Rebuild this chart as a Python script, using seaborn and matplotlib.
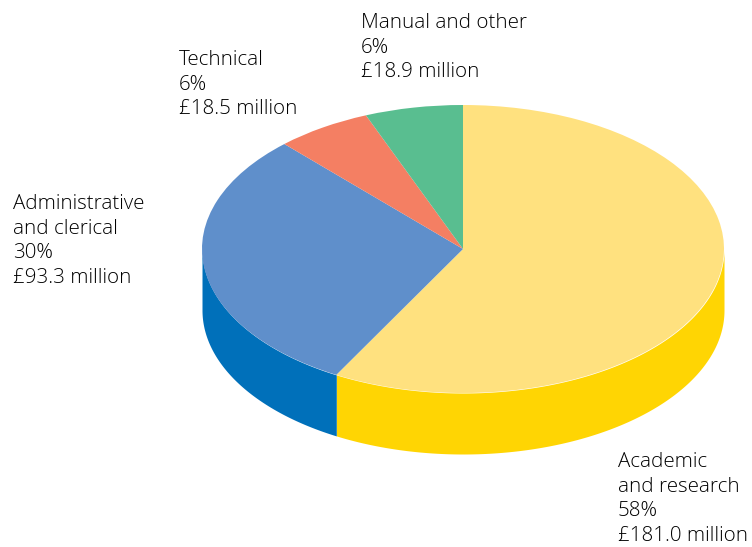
import numpy as np
import matplotlib
matplotlib.use("Agg")
import matplotlib.pyplot as plt
from matplotlib.transforms import Affine2D
import seaborn as sns

names = ["Academic\nand research", "Administrative\nand clerical", "Technical", "Manual and other"]
percents = ["58%", "30%", "6%", "6%"]
amounts = [181.0, 93.3, 18.5, 18.9]
top_colors = ["#FFE17F", "#5F8FCB", "#F47F63", "#59BE90"]
side_colors = ["#FFD503", "#0070BA", "#E0603F", "#35A070"]
label_xy = [(618, 452), (13, 194), (179, 50), (361, 13)]

sns.set_theme(style="white")
plt.rcParams["font.family"] = ["Open Sans", "DejaVu Sans"]

W, H = 752, 547
CX, CY = 463, H - 249
RX, RY, DEPTH = 261, 144, 61

fig = plt.figure(figsize=(W / 100, H / 100), dpi=100, facecolor="white")
ax = fig.add_axes([0, 0, 1, 1])

# Top face: a regular pie, squashed into an ellipse.
wedges, _ = ax.pie(amounts, colors=top_colors, startangle=90, counterclock=False,
                   wedgeprops={"linewidth": 0})
squash = Affine2D().scale(RX, RY).translate(CX, CY) + ax.transData
for w in wedges:
    w.set_transform(squash)
    w.set_clip_on(False)
ax.set_aspect("auto")
ax.set_xlim(0, W)
ax.set_ylim(0, H)
ax.axis("off")

# Side wall: each slice's rim is swept downward on the visible front half.
fractions = np.cumsum([0] + amounts) / sum(amounts)
for start, stop, colour in zip(fractions[:-1], fractions[1:], side_colors):
    a0 = np.pi / 2 - 2 * np.pi * start
    a1 = np.pi / 2 - 2 * np.pi * stop
    lo, hi = max(min(a0, a1), -np.pi), min(max(a0, a1), 0)
    if lo >= hi:
        continue
    t = np.linspace(lo, hi, 200)
    x = CX + RX * np.cos(t)
    y = CY + RY * np.sin(t)
    ax.fill_between(x, y, y - DEPTH, color=colour, lw=0, zorder=0)

for name, pct, amount, (x, y) in zip(names, percents, amounts, label_xy):
    text = f"{name}\n{pct}\n£{amount:.1f} million"
    ax.text(x, H - y, text, fontsize=14.8, color="#000000", va="top",
            ha="left", linespacing=1.31, fontweight="light")

fig.savefig("out.png", dpi=100)
